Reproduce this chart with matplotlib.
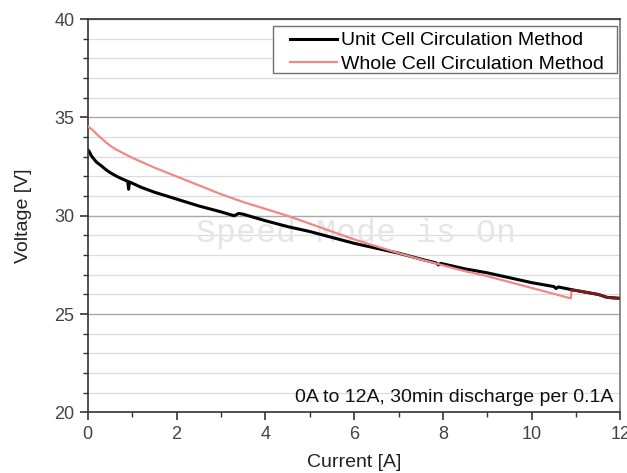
import matplotlib
matplotlib.use("Agg")
import matplotlib.pyplot as plt
from matplotlib.ticker import MultipleLocator
from matplotlib.patches import Rectangle

plt.rcParams['font.family'] = ['Liberation Sans', 'DejaVu Sans']

# Unit Cell Circulation Method (black)
unit_x = [0.00, 0.03, 0.08, 0.15, 0.20, 0.30, 0.40, 0.50, 0.60, 0.70, 0.80, 0.90, 0.92, 0.94,
          1.00, 1.20, 1.50, 2.00, 2.50, 3.00, 3.30, 3.40, 3.50, 4.00, 4.50, 5.00, 5.50, 6.00,
          6.50, 7.00, 7.50, 7.85, 7.90, 7.95, 8.50, 9.00, 9.50, 10.00, 10.50, 10.55, 10.60,
          11.00, 11.50, 11.70, 12.00]
unit_v = [33.35, 33.28, 33.05, 32.85, 32.72, 32.55, 32.36, 32.20, 32.07, 31.95, 31.85, 31.75,
          31.35, 31.72, 31.66, 31.45, 31.20, 30.85, 30.50, 30.20, 30.00, 30.12, 30.08, 29.75,
          29.45, 29.20, 28.90, 28.60, 28.35, 28.10, 27.80, 27.60, 27.50, 27.58, 27.30, 27.10,
          26.85, 26.60, 26.40, 26.30, 26.38, 26.20, 26.00, 25.85, 25.80]

# Whole Cell Circulation Method (pink)
whole_x = [0.00, 0.10, 0.20, 0.30, 0.40, 0.50, 0.60, 0.70, 0.80, 1.00, 1.50, 2.00, 2.50,
           3.00, 3.50, 4.00, 4.50, 5.00, 5.50, 6.00, 6.50, 7.00, 7.50, 8.00, 8.50, 9.00,
           9.50, 10.00, 10.50, 10.88, 10.90]
whole_v = [34.55, 34.38, 34.15, 33.95, 33.75, 33.57, 33.42, 33.30, 33.18, 32.95, 32.45,
           32.00, 31.55, 31.10, 30.70, 30.35, 30.00, 29.60, 29.20, 28.80, 28.45, 28.10,
           27.78, 27.48, 27.18, 26.93, 26.63, 26.33, 26.03, 25.80, 26.22]
# Whole Cell tail, overlapping the unit-cell curve
whole_tail_x = [10.90, 11.00, 11.50, 11.70, 12.00]
whole_tail_v = [26.22, 26.20, 26.00, 25.85, 25.80]

x_ticks = [0, 2, 4, 6, 8, 10, 12]
y_ticks = [20, 25, 30, 35, 40]

fig = plt.figure(figsize=(6.27, 4.73), dpi=100)
ax = fig.add_axes([0.140, 0.128, 0.8496, 0.8316])

ax.set_xlim(0, 12)
ax.set_ylim(20, 40)
ax.set_xticks(x_ticks)
ax.set_yticks(y_ticks)
ax.xaxis.set_minor_locator(MultipleLocator(1))
ax.yaxis.set_minor_locator(MultipleLocator(1))

ax.grid(axis='y', which='major', color='#a8a8a8', lw=1.0, zorder=0)
ax.grid(axis='y', which='minor', color='#dcdcdc', lw=0.9, zorder=0)
ax.set_axisbelow(True)

ax.text(0.504, 0.456, 'Speed Mode is On', transform=ax.transAxes,
        family='Liberation Mono', fontsize=24, color='#e6e6e6',
        ha='center', va='center', zorder=1)

ax.plot(whole_x, whole_v, color='#f08888', lw=1.6, zorder=3,
        label='Whole Cell Circulation Method')
ax.plot(unit_x, unit_v, color='black', lw=2.2, zorder=2,
        label='Unit Cell Circulation Method')
ax.plot(whole_tail_x, whole_tail_v, color='#7a1c1c', lw=2.0, zorder=4)

# legend frame
ax.add_patch(Rectangle((0.3478, 0.8629), 0.9934 - 0.3478, 0.9825 - 0.8629,
                       transform=ax.transAxes, facecolor='white', edgecolor='#707070',
                       lw=1.0, zorder=5))
h, l = ax.get_legend_handles_labels()
leg = ax.legend(h[::-1], l[::-1], loc='upper left', bbox_to_anchor=(0.3797, 0.968),
                fontsize=14, frameon=False, borderpad=0.0,
                handlelength=2.4, handletextpad=0.2, labelspacing=0.32,
                borderaxespad=0.0)
leg.set_zorder(6)

ax.text(0.986, 0.039, '0A to 12A, 30min discharge per 0.1A', transform=ax.transAxes,
        fontsize=14, ha='right', va='center', color='#111111', zorder=5)

for s in ['left', 'bottom', 'top']:
    ax.spines[s].set_color('#333333')
    ax.spines[s].set_linewidth(1.2)
ax.spines['right'].set_color('#777777')
ax.spines['right'].set_linewidth(1.2)

ax.tick_params(which='major', direction='out', length=6, width=1.2,
               colors='#333333', labelsize=13, labelcolor='#444444')
ax.tick_params(which='minor', direction='out', length=3.5, width=1.0, colors='#333333')

ax.set_xlabel('Current [A]', fontsize=14, color='#222222', labelpad=8)
ax.set_ylabel('Voltage [V]', fontsize=14, color='#222222', labelpad=16)

fig.savefig('out.png', dpi=100)
